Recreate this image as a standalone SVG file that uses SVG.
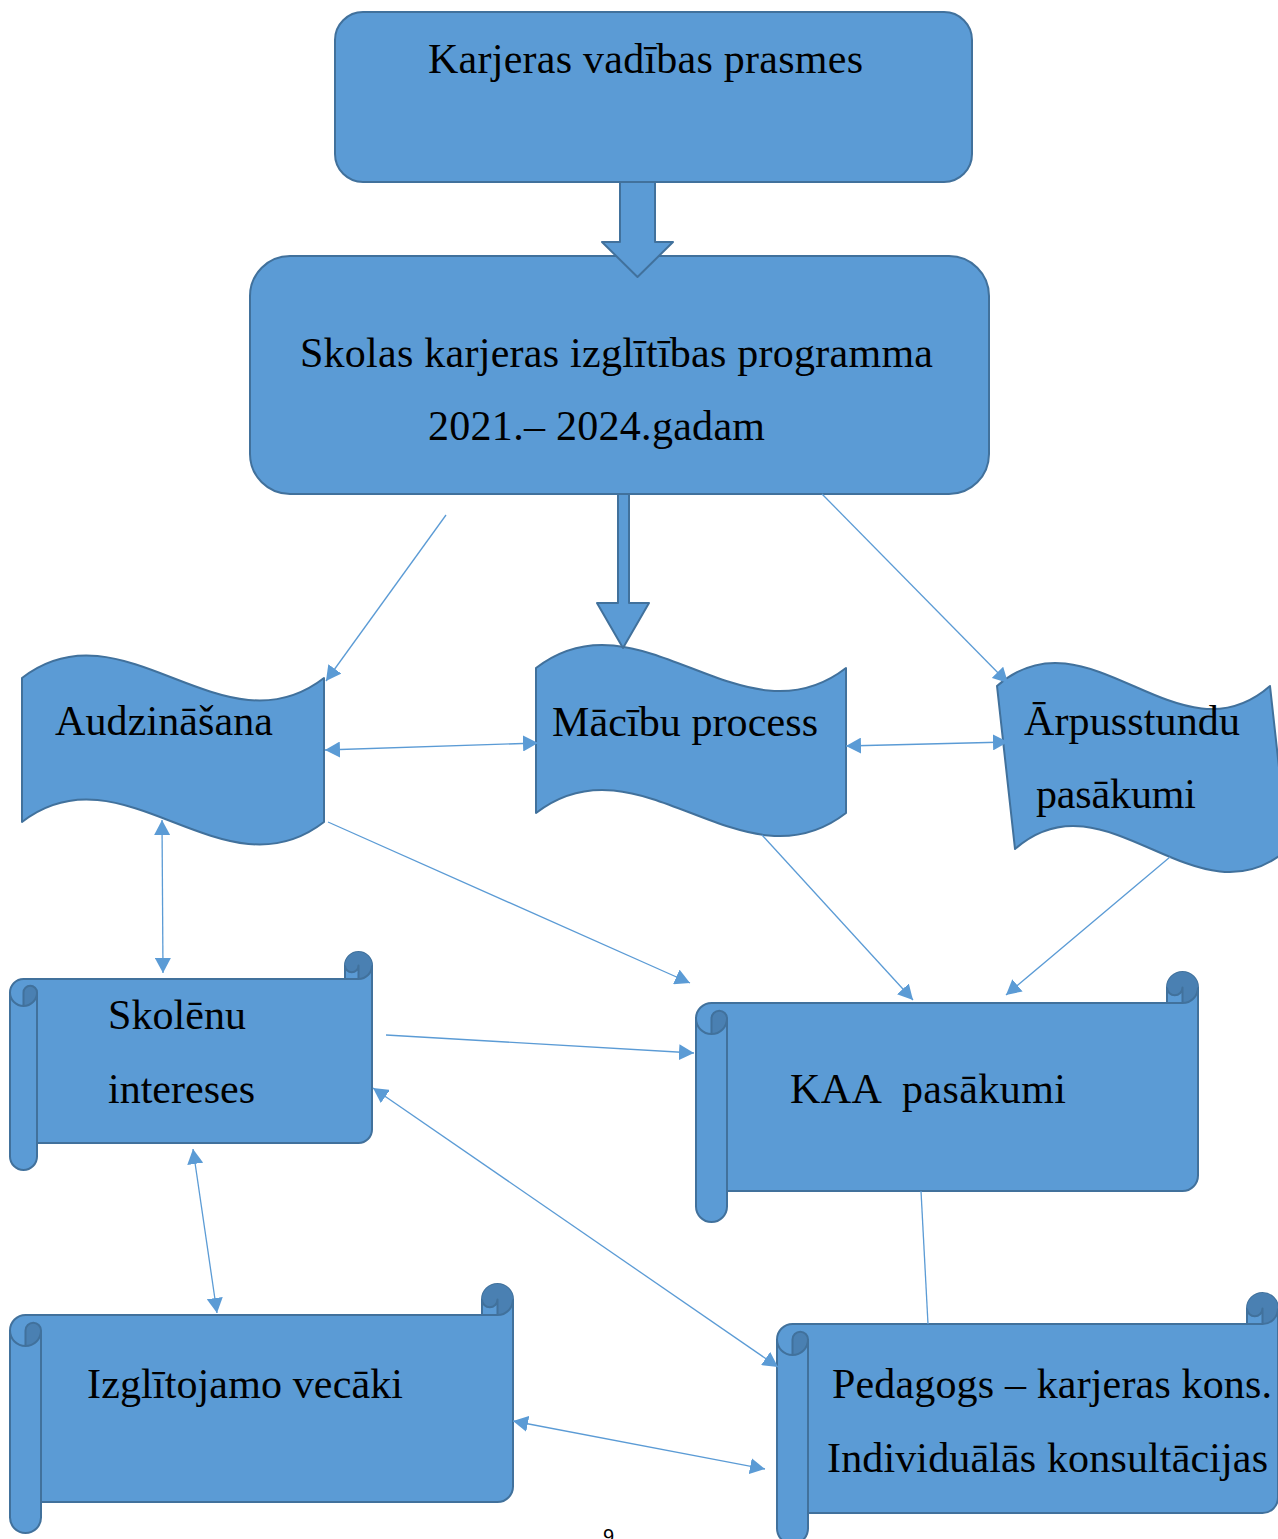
<svg xmlns="http://www.w3.org/2000/svg" width="1278" height="1539" viewBox="0 0 1278 1539">
<style>
.shape{fill:#5B9BD5;stroke:#41719C;stroke-width:2;stroke-linejoin:round}
.dark{fill:#4A80B2;stroke:none}
.det{fill:none;stroke:#41719C;stroke-width:2;stroke-linejoin:round}
.lbl{font-family:"Liberation Serif","Times New Roman",serif;font-size:42px;fill:#000;white-space:pre}
.conn{fill:none;stroke:#5B9BD5;stroke-width:1.3}
.pg{font-family:"Liberation Sans",Arial,sans-serif;font-size:20px;fill:#000}
</style>
<defs>
<marker id="ah" viewBox="0 0 15 16" refX="15" refY="8" markerWidth="15" markerHeight="16" markerUnits="userSpaceOnUse" orient="auto-start-reverse">
<path d="M0,0 L15,8 L0,16 Z" fill="#5B9BD5"/>
</marker>
</defs>
<rect width="1278" height="1539" fill="#fff"/>

<g id="n-karjeras-vadibas">
<rect class="shape" x="335" y="12" width="637" height="170" rx="28" ry="28"/>
<text class="lbl" x="428" y="73" textLength="435">Karjeras vadības prasmes</text>
</g>

<g id="n-programma">
<rect class="shape" x="250" y="256" width="739" height="238" rx="40" ry="40"/>
<text class="lbl" x="300" y="367" textLength="633">Skolas karjeras izglītības programma</text>
<text class="lbl" x="428" y="440" textLength="337">2021.– 2024.gadam</text>
</g>

<g id="n-audzinasana">
<path class="shape" d="M22,678 C122.7,600 223.3,756 324,678 L324,822 C223.3,900 122.7,744 22,822 Z"/>
<text class="lbl" x="55" y="735" textLength="218">Audzināšana</text>
</g>

<g id="n-macibu">
<path class="shape" d="M536,668 C639.3,588 742.7,748 846,668 L846,813 C742.7,893 639.3,733 536,813 Z"/>
<text class="lbl" x="552" y="736" textLength="266">Mācību process</text>
</g>

<g id="n-arpusstundu">
<path class="shape" d="M997,686 C1088,606 1179,766 1270,686 L1288,849 C1197,929 1106,769 1015,849 Z"/>
<text class="lbl" x="1024" y="735" textLength="216">Ārpusstundu</text>
<text class="lbl" x="1036" y="808" textLength="160">pasākumi</text>
</g>

<g id="n-skolenu">
<path class="shape" d="M10,992.5 A13.5,13.5 0 0 1 23.5,979 L345,979 L345,965.5 A13.5,13.5 0 0 1 372,965.5 L372,1129.5 A13.5,13.5 0 0 1 358.5,1143 L37,1143 L37,1156.5 A13.5,13.5 0 0 1 10,1156.5 Z"/>
<path class="dark" d="M23.5,1006 A13.5,13.5 0 0 0 37,992.5 A6.75,6.75 0 0 0 23.5,992.5 Z M358.5,979 A13.5,13.5 0 1 0 345,965.5 A6.75,6.75 0 0 0 358.5,965.5 Z"/>
<path class="det" d="M345,979 L358.5,979 A13.5,13.5 0 0 0 372,965.5 M358.5,979 L358.5,965.5 A6.75,6.75 0 0 1 345,965.5 M23.5,1006 L23.5,992.5 A6.75,6.75 0 0 1 37,992.5 A13.5,13.5 0 0 1 10,992.5 M37,992.5 L37,1143"/>
<text class="lbl" x="108" y="1029" textLength="138">Skolēnu</text>
<text class="lbl" x="108" y="1103" textLength="147">intereses</text>
</g>

<g id="n-kaa">
<path class="shape" d="M696,1018.5 A15.5,15.5 0 0 1 711.5,1003 L1167,1003 L1167,987.5 A15.5,15.5 0 0 1 1198,987.5 L1198,1175.5 A15.5,15.5 0 0 1 1182.5,1191 L727,1191 L727,1206.5 A15.5,15.5 0 0 1 696,1206.5 Z"/>
<path class="dark" d="M711.5,1034 A15.5,15.5 0 0 0 727,1018.5 A7.75,7.75 0 0 0 711.5,1018.5 Z M1182.5,1003 A15.5,15.5 0 1 0 1167,987.5 A7.75,7.75 0 0 0 1182.5,987.5 Z"/>
<path class="det" d="M1167,1003 L1182.5,1003 A15.5,15.5 0 0 0 1198,987.5 M1182.5,1003 L1182.5,987.5 A7.75,7.75 0 0 1 1167,987.5 M711.5,1034 L711.5,1018.5 A7.75,7.75 0 0 1 727,1018.5 A15.5,15.5 0 0 1 696,1018.5 M727,1018.5 L727,1191"/>
<text class="lbl" x="790" y="1103" textLength="276">KAA  pasākumi</text>
</g>

<g id="n-vecaki">
<path class="shape" d="M10,1330.5 A15.5,15.5 0 0 1 25.5,1315 L482,1315 L482,1299.5 A15.5,15.5 0 0 1 513,1299.5 L513,1486.5 A15.5,15.5 0 0 1 497.5,1502 L41,1502 L41,1517.5 A15.5,15.5 0 0 1 10,1517.5 Z"/>
<path class="dark" d="M25.5,1346 A15.5,15.5 0 0 0 41,1330.5 A7.75,7.75 0 0 0 25.5,1330.5 Z M497.5,1315 A15.5,15.5 0 1 0 482,1299.5 A7.75,7.75 0 0 0 497.5,1299.5 Z"/>
<path class="det" d="M482,1315 L497.5,1315 A15.5,15.5 0 0 0 513,1299.5 M497.5,1315 L497.5,1299.5 A7.75,7.75 0 0 1 482,1299.5 M25.5,1346 L25.5,1330.5 A7.75,7.75 0 0 1 41,1330.5 A15.5,15.5 0 0 1 10,1330.5 M41,1330.5 L41,1502"/>
<text class="lbl" x="87" y="1398" textLength="316">Izglītojamo vecāki</text>
</g>

<g id="n-pedagogs">
<path class="shape" d="M777,1339.5 A15.5,15.5 0 0 1 792.5,1324 L1247,1324 L1247,1308.5 A15.5,15.5 0 0 1 1278,1308.5 L1278,1497.5 A15.5,15.5 0 0 1 1262.5,1513 L808,1513 L808,1528.5 A15.5,15.5 0 0 1 777,1528.5 Z"/>
<path class="dark" d="M792.5,1355 A15.5,15.5 0 0 0 808,1339.5 A7.75,7.75 0 0 0 792.5,1339.5 Z M1262.5,1324 A15.5,15.5 0 1 0 1247,1308.5 A7.75,7.75 0 0 0 1262.5,1308.5 Z"/>
<path class="det" d="M1247,1324 L1262.5,1324 A15.5,15.5 0 0 0 1278,1308.5 M1262.5,1324 L1262.5,1308.5 A7.75,7.75 0 0 1 1247,1308.5 M792.5,1355 L792.5,1339.5 A7.75,7.75 0 0 1 808,1339.5 A15.5,15.5 0 0 1 777,1339.5 M808,1339.5 L808,1513"/>
<text class="lbl" x="832" y="1398" textLength="440">Pedagogs – karjeras kons.</text>
<text class="lbl" x="827" y="1472" textLength="441">Individuālās konsultācijas</text>
</g>

<g id="connectors">
<polygon class="shape" points="620,182 655,182 655,242 673,242 637.5,277 602,242 620,242"/>
<polygon class="shape" points="618,494 629,494 629,603 649,603 623,648 597,603 618,603"/>
<line class="conn" x1="446" y1="515" x2="326" y2="681" marker-end="url(#ah)"/>
<line class="conn" x1="822" y1="494" x2="1008" y2="683" marker-end="url(#ah)"/>
<line class="conn" x1="325" y1="750" x2="538" y2="743" marker-start="url(#ah)" marker-end="url(#ah)"/>
<line class="conn" x1="846" y1="746" x2="1008" y2="742" marker-start="url(#ah)" marker-end="url(#ah)"/>
<line class="conn" x1="162" y1="820" x2="163" y2="973" marker-start="url(#ah)" marker-end="url(#ah)"/>
<line class="conn" x1="328" y1="822" x2="690" y2="983" marker-end="url(#ah)"/>
<line class="conn" x1="762" y1="835" x2="913" y2="1000" marker-end="url(#ah)"/>
<line class="conn" x1="1170" y1="857" x2="1006" y2="995" marker-end="url(#ah)"/>
<line class="conn" x1="386" y1="1035" x2="694" y2="1053" marker-end="url(#ah)"/>
<line class="conn" x1="373" y1="1088" x2="778" y2="1367" marker-start="url(#ah)" marker-end="url(#ah)"/>
<line class="conn" x1="193" y1="1149" x2="217" y2="1313" marker-start="url(#ah)" marker-end="url(#ah)"/>
<line class="conn" x1="921" y1="1191" x2="928" y2="1324"/>
<line class="conn" x1="513" y1="1421" x2="765" y2="1469" marker-start="url(#ah)" marker-end="url(#ah)"/>
</g>

<text class="pg" x="603" y="1543">9</text>
</svg>
